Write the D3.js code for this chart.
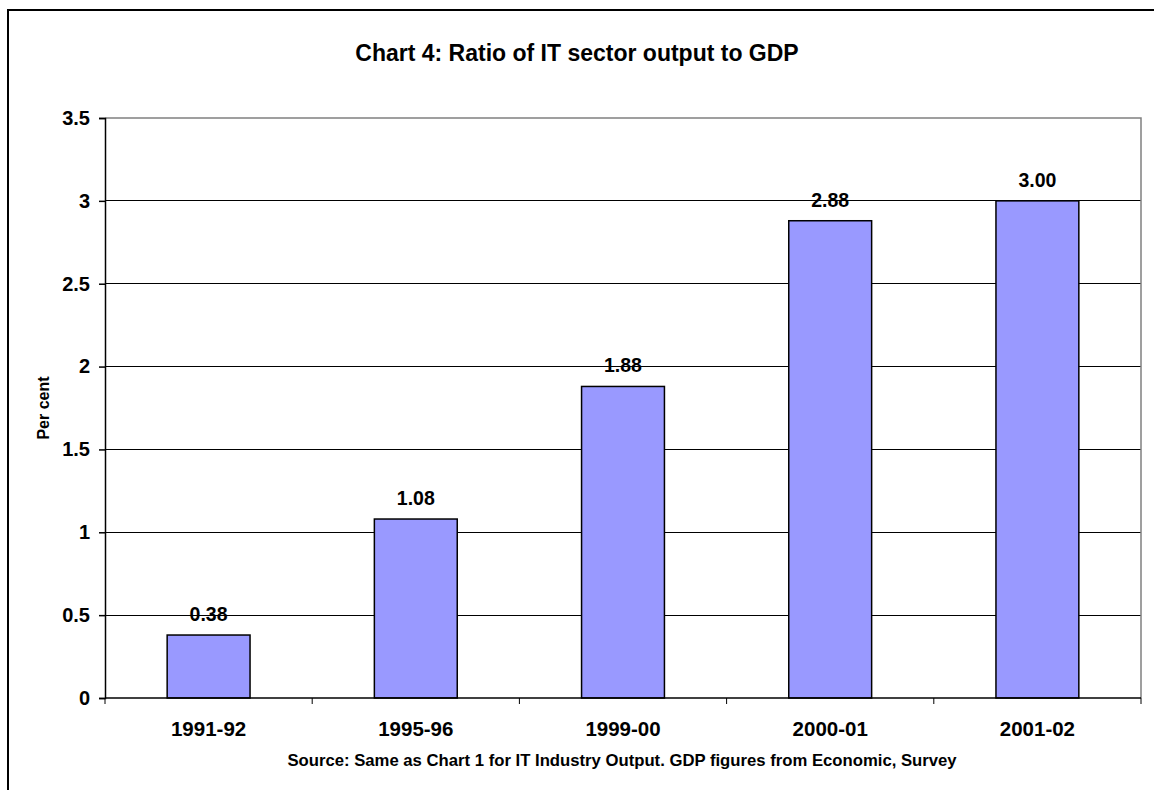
<!DOCTYPE html>
<html>
<head>
<meta charset="utf-8">
<script src="https://d3js.org/d3.v7.min.js"></script>
<style>
 body { margin: 0; background: #fff; }
 text { font-family: Arial, "Liberation Sans", sans-serif; font-weight: bold; fill: #000; }
</style>
</head>
<body>
<script>
var years = ["1991-92", "1995-96", "1999-00", "2000-01", "2001-02"];
var ratio = [0.38, 1.08, 1.88, 2.88, 3.00];
var yTicks = [0, 0.5, 1, 1.5, 2, 2.5, 3, 3.5];

var w = 1154, h = 790;
var mLeft = 105, mRight = 1141, mTop = 118, mBottom = 698;

var svg = d3.select("body").append("svg")
  .attr("width", w).attr("height", h);

// frame (only top and left edges fall inside the picture)
svg.append("rect")
  .attr("x", 8).attr("y", 10)
  .attr("width", 1200).attr("height", 900)
  .attr("fill", "none").attr("stroke", "#000").attr("stroke-width", 2);

var x = d3.scaleBand().domain(years).range([mLeft, mRight])
  .paddingInner(0.6).paddingOuter(0.3);
var y = d3.scaleLinear().domain([0, 3.5]).range([mBottom, mTop]);

// gridlines
svg.append("g").selectAll("line")
  .data(yTicks.filter(function(d) { return d > 0 && d < 3.5; }))
  .enter().append("line")
  .attr("x1", mLeft).attr("x2", mRight)
  .attr("y1", function(d) { return y(d); })
  .attr("y2", function(d) { return y(d); })
  .attr("stroke", "#000").attr("stroke-width", 1)
  .attr("shape-rendering", "crispEdges");

// plot border top and right in gray
svg.append("path")
  .attr("d", "M" + mLeft + "," + mTop + "H" + mRight + "V" + mBottom)
  .attr("fill", "none").attr("stroke", "#808080").attr("stroke-width", 1.5);

// bars
svg.append("g").selectAll("rect")
  .data(ratio)
  .enter().append("rect")
  .attr("x", function(d, i) { return x(years[i]); })
  .attr("width", x.bandwidth())
  .attr("y", function(d) { return y(d); })
  .attr("height", function(d) { return y(0) - y(d); })
  .attr("fill", "#9999ff").attr("stroke", "#000").attr("stroke-width", 1.5);

// value labels
svg.append("g").selectAll("text")
  .data(ratio)
  .enter().append("text")
  .attr("x", function(d, i) { return x(years[i]) + x.bandwidth() / 2; })
  .attr("y", function(d) { return y(d) - 14; })
  .attr("text-anchor", "middle")
  .style("font-size", "19.5px")
  .text(function(d) { return d.toFixed(2); });

// y axis
var yAxis = svg.append("g")
  .attr("transform", "translate(" + mLeft + ",0)")
  .call(d3.axisLeft(y).tickValues(yTicks).tickSize(6).tickPadding(9)
    .tickFormat(function(d) { return d; }));
yAxis.selectAll("text").style("font-size", "20px");
yAxis.selectAll("path, line").attr("stroke", "#000").attr("stroke-width", 1.5);

// x axis with ticks between categories
var xAxis = svg.append("g").attr("transform", "translate(0," + mBottom + ")");
xAxis.append("line")
  .attr("x1", mLeft).attr("x2", mRight)
  .attr("stroke", "#000").attr("stroke-width", 1.5);
var step = (mRight - mLeft) / years.length;
xAxis.selectAll(".tk")
  .data(d3.range(years.length + 1))
  .enter().append("line")
  .attr("class", "tk")
  .attr("x1", function(i) { return mLeft + i * step; })
  .attr("x2", function(i) { return mLeft + i * step; })
  .attr("y1", 0).attr("y2", 6)
  .attr("stroke", "#000").attr("stroke-width", 1);
xAxis.selectAll("text")
  .data(years)
  .enter().append("text")
  .attr("x", function(d) { return x(d) + x.bandwidth() / 2; })
  .attr("y", 38)
  .attr("text-anchor", "middle")
  .style("font-size", "20.5px")
  .text(function(d) { return d; });

// title
svg.append("text")
  .attr("x", 577).attr("y", 61)
  .attr("text-anchor", "middle")
  .style("font-size", "23px")
  .text("Chart 4: Ratio of IT sector output to GDP");

// y title
svg.append("text")
  .attr("transform", "translate(49," + (mTop + mBottom) / 2 + ") rotate(-90)")
  .attr("text-anchor", "middle")
  .style("font-size", "16px")
  .text("Per cent");

// source
svg.append("text")
  .attr("x", 622).attr("y", 766)
  .attr("text-anchor", "middle")
  .style("font-size", "16.7px")
  .text("Source: Same as Chart 1 for IT Industry Output. GDP figures from Economic, Survey");
</script>
</body>
</html>
